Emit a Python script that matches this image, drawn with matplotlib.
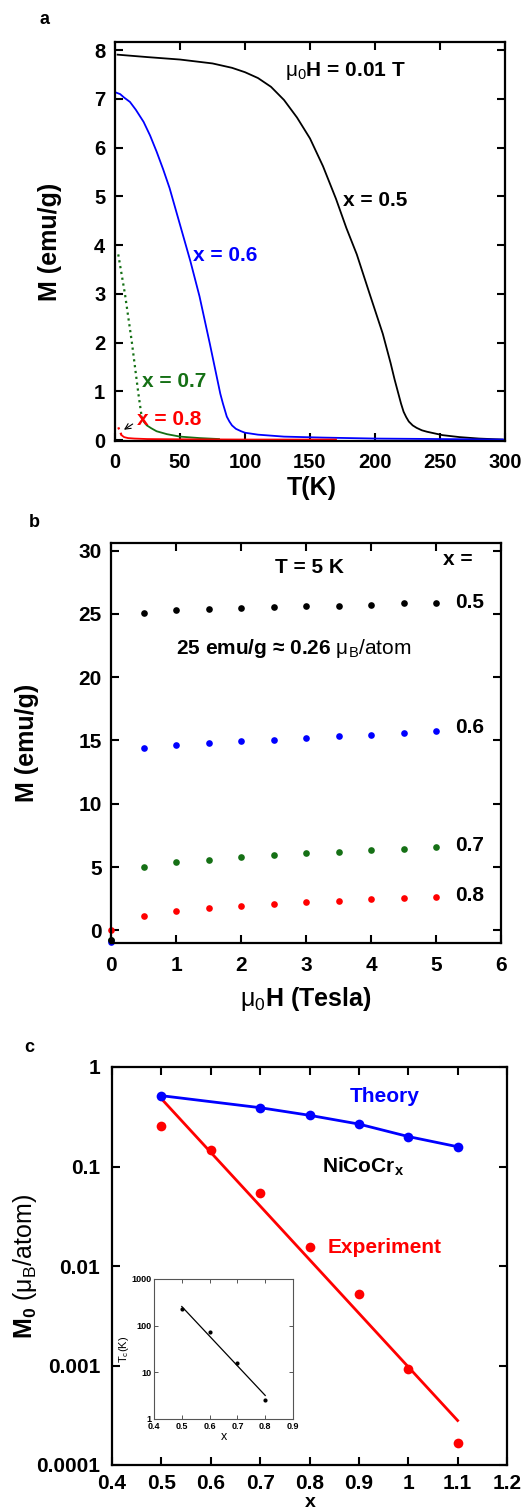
import matplotlib
matplotlib.use('Agg')
import matplotlib.pyplot as plt
from matplotlib.ticker import FixedLocator, FixedFormatter

plt.rcParams['font.family'] = ['Liberation Sans', 'DejaVu Sans']
plt.rcParams['font.weight'] = 'bold'
plt.rcParams['mathtext.fontset'] = 'custom'
plt.rcParams['mathtext.rm'] = 'Liberation Sans:weight=normal'
plt.rcParams['mathtext.it'] = 'Liberation Sans:italic:weight=normal'
plt.rcParams['mathtext.bf'] = 'Liberation Sans:weight=bold'
plt.rcParams['mathtext.default'] = 'rm'

BLUE = '#0000ff'
GREEN = '#157015'
RED = '#ff0000'

# ---- panel a : M(T) at 0.01 T
T_05 = [2, 25, 50, 75, 90, 100, 110, 120, 130, 140, 150, 160, 170, 178, 186, 196,
        206, 212, 215, 218, 220, 222, 224, 226, 229, 232, 236, 240, 252, 265, 280, 298]
M_05 = [7.91, 7.86, 7.81, 7.73, 7.64, 7.55, 7.43, 7.25, 6.98, 6.62, 6.19, 5.62, 4.95,
        4.35, 3.81, 2.99, 2.18, 1.58, 1.25, 0.95, 0.75, 0.58, 0.47, 0.38, 0.3, 0.25,
        0.2, 0.17, 0.1, 0.06, 0.03, 0.01]
T_06 = [1, 4, 7, 11.5, 16, 22, 27, 32, 37, 42, 50, 58, 65, 73, 81, 83, 86, 88, 90,
        93, 97, 100, 110, 130, 160, 200, 250, 300]
M_06 = [7.13, 7.1, 7.03, 6.94, 6.78, 6.53, 6.25, 5.92, 5.56, 5.17, 4.42, 3.67, 2.95,
        1.97, 0.95, 0.75, 0.48, 0.38, 0.3, 0.23, 0.18, 0.15, 0.11, 0.07, 0.05, 0.03,
        0.02, 0.01]
T_07_low = [2.5, 7.7, 12.8, 18, 20.5]
M_07_low = [3.81, 2.99, 2.04, 0.95, 0.48]
T_07 = [20.5, 22, 24.5, 28, 32, 40, 50, 65, 80]
M_07 = [0.48, 0.38, 0.3, 0.24, 0.18, 0.12, 0.07, 0.04, 0.02]
T_08_low = [2.5, 3.5, 5]
M_08_low = [0.26, 0.2, 0.1]
T_08 = [5, 7, 10, 15, 25, 50, 100, 170]
M_08 = [0.1, 0.06, 0.04, 0.03, 0.02, 0.015, 0.01, 0.01]

# ---- panel b : M(H) at 5 K
H = [0.5, 1, 1.5, 2, 2.5, 3, 3.5, 4, 4.5, 5]
MH_05 = [25.07, 25.28, 25.36, 25.43, 25.54, 25.62, 25.62, 25.67, 25.83, 25.88]
MH_06 = [14.42, 14.66, 14.82, 14.92, 15.05, 15.21, 15.34, 15.47, 15.61, 15.74]
MH_07 = [5.03, 5.37, 5.58, 5.76, 5.92, 6.08, 6.21, 6.32, 6.45, 6.58]
MH_08 = [1.16, 1.53, 1.76, 1.92, 2.08, 2.21, 2.34, 2.45, 2.55, 2.66]
H0_vals = {'0.5': -0.8, '0.6': -0.9, '0.7': -0.8, '0.8': 0.0}

# ---- panel c : M0 vs x
x_theory = [0.5, 0.7, 0.8, 0.9, 1.0, 1.1]
m_theory = [0.515, 0.39, 0.327, 0.267, 0.2, 0.158]
x_exp = [0.5, 0.6, 0.7, 0.8, 0.9, 1.0, 1.1]
m_exp = [0.257, 0.147, 0.0546, 0.0156, 0.00523, 0.00092, 0.000168]
x_fit = [0.5, 1.1]
m_fit = [0.48, 0.00028]
# inset Tc
x_tc = [0.5, 0.6, 0.7, 0.8]
tc = [225, 72, 16, 2.6]
x_tcfit = [0.5, 0.8]
tc_fit = [257, 3.2]


def style(ax, fs=14.5, padx=9, pady=7):
    for s in ax.spines.values():
        s.set_linewidth(1.6)
    ax.tick_params(direction='in', length=6, width=1.5, top=True, right=True,
                   labelsize=fs)
    ax.tick_params(axis='x', pad=padx)
    ax.tick_params(axis='y', pad=pady)


W, Hh = 527, 1511
fig = plt.figure(figsize=(W / 100, Hh / 100), dpi=100)


def axes_px(l, t, r, b):
    return fig.add_axes([l / W, 1 - b / Hh, (r - l) / W, (b - t) / Hh])


# ===== a
ax = axes_px(115, 42, 505, 441)
ax.plot(T_05, M_05, color='black', lw=1.3)
ax.plot(T_06, M_06, color=BLUE, lw=1.3)
ax.plot(T_07_low, M_07_low, color=GREEN, lw=1.6, ls=':')
ax.plot(T_07, M_07, color=GREEN, lw=1.3)
ax.plot(T_08, M_08, color=RED, lw=1.3)
ax.plot(T_08_low, M_08_low, color=RED, lw=1.6, ls=':')
ax.set_xlim(0, 300)
ax.set_ylim(-0.02, 8.17)
ax.set_xticks([0, 50, 100, 150, 200, 250, 300])
ax.set_yticks(range(0, 9))
style(ax)
ax.text(175.6, 4.91, 'x = 0.5', fontsize=15, va='center')
ax.text(60.3, 3.78, 'x = 0.6', fontsize=15, va='center', color=BLUE)
ax.text(20.5, 1.2, 'x = 0.7', fontsize=15, va='center', color=GREEN)
ax.text(16.7, 0.42, 'x = 0.8', fontsize=15, va='center', color=RED)
ax.text(130.8, 7.48, r'$\mu_0$H = 0.01 T', fontsize=15, va='baseline')
ax.annotate('', xy=(5.1, 0.18), xytext=(15.4, 0.36),
            arrowprops=dict(arrowstyle='->', color='black', lw=0.8))
ax.text(0.505, -0.118, 'T(K)', transform=ax.transAxes, fontsize=18,
        ha='center', va='center')
ax.text(-0.167, 0.5, 'M (emu/g)', transform=ax.transAxes, fontsize=18,
        ha='center', va='center', rotation=90)
fig.text(45 / W, 1 - 19 / Hh, 'a', fontsize=13, ha='center', va='center')

# ===== b
ax = axes_px(111, 543, 501, 943)
series_b = [('0.8', MH_08, RED), ('0.7', MH_07, GREEN), ('0.6', MH_06, BLUE),
            ('0.5', MH_05, 'black')]
for lab, vals, col in series_b:
    ax.plot([0] + H, [H0_vals[lab]] + vals, 'o', color=col, ms=4.8, mec='none',
            clip_on=False)
ax.set_xlim(0, 6)
ax.set_ylim(-1, 30.6)
ax.set_xticks(range(0, 7))
ax.set_yticks(range(0, 31, 5))
style(ax, fs=15, padx=9, pady=6.5)
ax.text(3.06, 28.65, 'T = 5 K', fontsize=15, ha='center', va='center')
ax.text(5.11, 29.3, 'x =', fontsize=15, va='center')
for lab, yy in [('0.5', 25.9), ('0.6', 16.0), ('0.7', 6.7), ('0.8', 2.76)]:
    ax.text(5.29, yy, lab, fontsize=15, va='center')
ax.text(1.0, 21.8, r'25 emu/g ≈ 0.26 $\mu_B\mathrm{/atom}$', fontsize=15,
        va='baseline')
ax.text(0.5, -0.1575, r'$\mu_0$H (Tesla)', transform=ax.transAxes, fontsize=18,
        ha='center', va='baseline')
ax.text(-0.215, 0.5, 'M (emu/g)', transform=ax.transAxes, fontsize=18,
        ha='center', va='center', rotation=90)
fig.text(34 / W, 1 - 522 / Hh, 'b', fontsize=13, ha='center', va='center')

# ===== c
ax = axes_px(112, 1067, 507, 1465)
ax.set_yscale('log')
ax.plot(x_fit, m_fit, color=RED, lw=2)
ax.plot(x_exp, m_exp, 'o', color=RED, ms=7, mec='none')
ax.plot(x_theory, m_theory, '-o', color=BLUE, lw=2, ms=7, mec='none')
ax.set_xlim(0.4, 1.2)
ax.set_ylim(1e-4, 1)
ax.set_xticks([0.4, 0.5, 0.6, 0.7, 0.8, 0.9, 1.0, 1.1, 1.2])
ax.set_xticklabels(['0.4', '0.5', '0.6', '0.7', '0.8', '0.9', '1', '1.1', '1.2'])
ax.yaxis.set_major_locator(FixedLocator([1e-4, 1e-3, 1e-2, 1e-1, 1]))
ax.yaxis.set_major_formatter(FixedFormatter(['0.0001', '0.001', '0.01', '0.1', '1']))
ax.yaxis.set_minor_locator(FixedLocator([]))
style(ax, fs=15, padx=6.5, pady=8.5)
ax.text(0.882, 0.5, 'Theory', fontsize=15, color=BLUE, va='center')
ax.text(0.825, 0.086, r'NiCoCr$_\mathbf{x}$', fontsize=15, va='baseline')
ax.text(0.8375, 0.0155, 'Experiment', fontsize=15, color=RED, va='center')
ax.text(0.501, -0.1055, 'x', transform=ax.transAxes, fontsize=14,
        ha='center', va='baseline')
ax.text(-0.22, 0.5, r'$\mathbf{M_0}$ ($\mu_B$/atom)', transform=ax.transAxes,
        fontsize=18, fontweight='normal', ha='center', va='center', rotation=90)
fig.text(29 / W, 1 - 1047 / Hh, 'c', fontsize=13, ha='center', va='center')

# inset
ins = axes_px(154, 1279, 293, 1419)
ins.set_yscale('log')
ins.plot(x_tcfit, tc_fit, color='black', lw=0.9)
ins.plot(x_tc, tc, 'o', color='black', ms=3, mec='none')
ins.set_xlim(0.4, 0.9)
ins.set_ylim(1, 1000)
ins.set_xticks([0.4, 0.5, 0.6, 0.7, 0.8, 0.9])
ins.yaxis.set_major_locator(FixedLocator([1, 10, 100, 1000]))
ins.yaxis.set_major_formatter(FixedFormatter(['1', '10', '100', '1000']))
ins.yaxis.set_minor_locator(FixedLocator([]))
for s in ins.spines.values():
    s.set_linewidth(0.8)
    s.set_color('#555555')
ins.tick_params(direction='in', length=3, width=0.7, top=True, right=True,
                labelsize=6.5, pad=2, color='#555555')
ins.set_xlabel('x', fontsize=9, labelpad=0)
ins.set_ylabel(r'T$_c$(K)', fontsize=8, labelpad=0)

fig.savefig('out.png', dpi=100)
